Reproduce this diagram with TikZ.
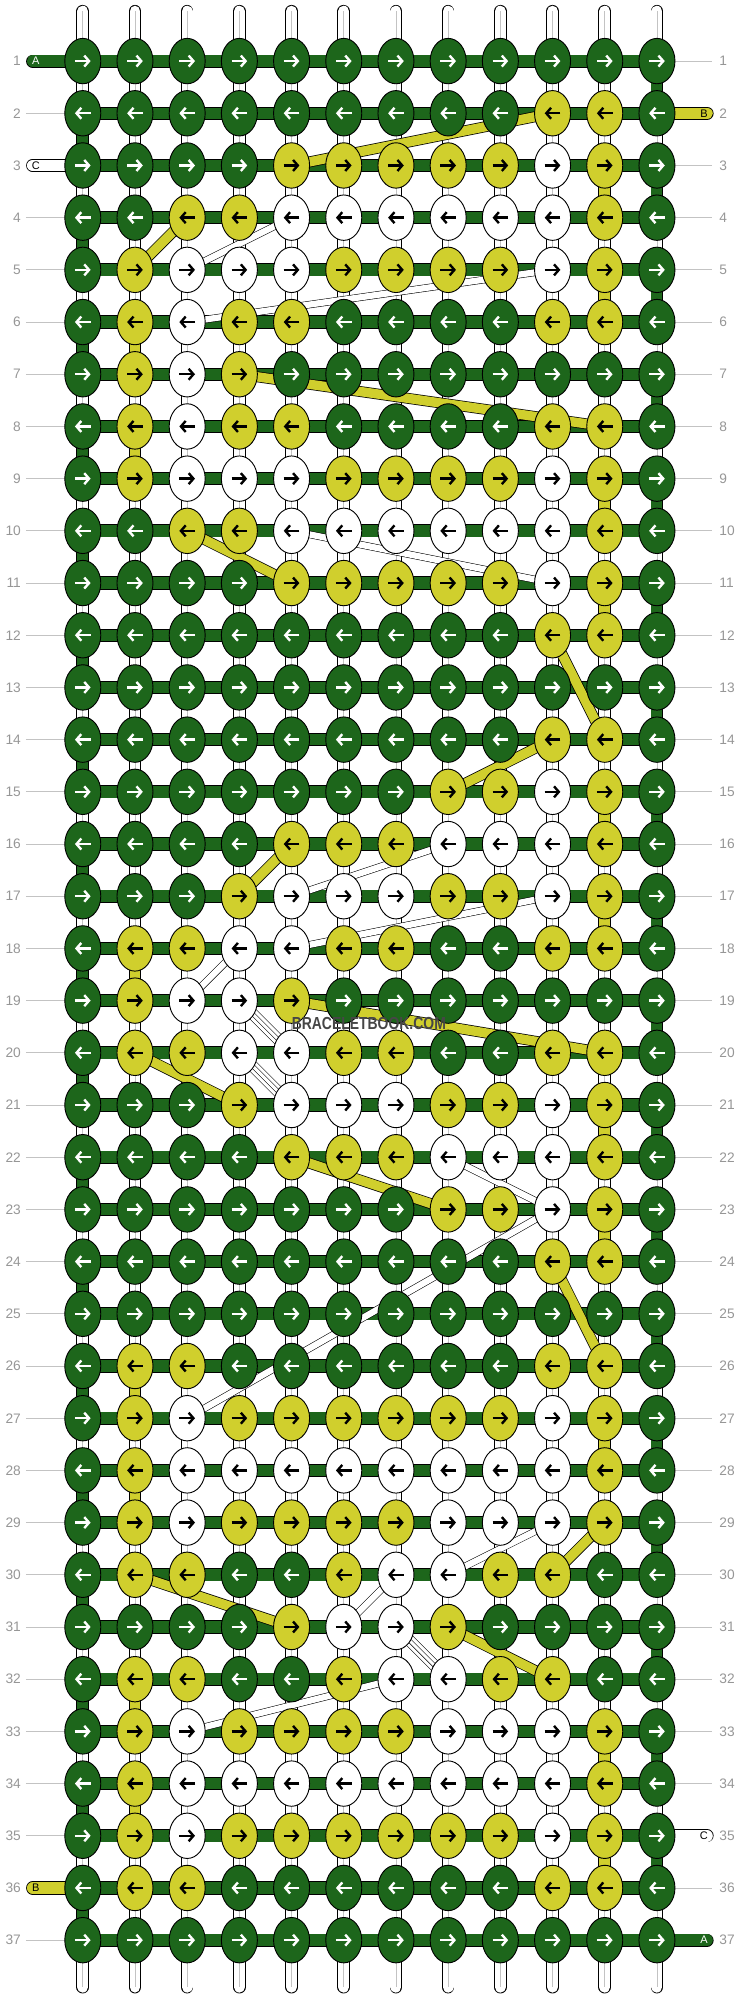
\documentclass[tikz,border=0pt]{standalone}
\usepackage{fontspec}
\setmainfont{Liberation Sans}
\usetikzlibrary{shapes.geometric,arrows.meta}
\definecolor{knotG}{RGB}{29,102,27}
\definecolor{knotY}{RGB}{208,207,45}
\definecolor{knotW}{RGB}{255,255,255}
\colorlet{arrG}{white}
\colorlet{arrY}{black}
\colorlet{arrW}{black}
\definecolor{rowgray}{RGB}{150,150,150}
\definecolor{linegray}{RGB}{195,195,195}
\definecolor{markgray}{RGB}{70,70,70}
\pgfdeclarelayer{strands}
\pgfsetlayers{strands,main}
\tikzset{
  knot/.style={ellipse, draw=black, line width=0.5pt, minimum width=0.69cm, minimum height=0.87cm, inner sep=0pt},
  knotarrow/.style={line width=1.3pt, -{Straight Barb[length=2.6pt,width=6pt]}},
  hband/.style={draw=black, line width=0.45pt, double=knotG, double distance=0.22cm},
  tab/.style={draw=black, line width=0.45pt, double=#1, double distance=0.22cm, line cap=round},
  vwhite/.style={draw=black, line width=0.45pt, double=white, double distance=0.21cm, line cap=round},
  vmid/.style={draw=linegray, line width=0.4pt},
  vseg/.style={draw=black, line width=0.45pt, double=#1, double distance=0.21cm},
  ydiag/.style={draw=black, line width=0.4pt, double=knotY, double distance=0.18cm},
  wdiag/.style={draw=black, line width=0.3pt, double=white, double distance=0.12cm},
  wbundle/.style={draw=black, line width=0.3pt, double=white, double distance=0.2cm,
    postaction={draw=black, line width=0.3pt, double=white, double distance=0.06cm}},
  rownum/.style={text=rowgray, font=\fontsize{7.5}{8}\selectfont, inner sep=0pt},
  tabtext/.style={font=\fontsize{6}{6}\selectfont, inner sep=0pt}
}
\begin{document}
\begin{tikzpicture}
\useasboundingbox (-0.586,0.17) rectangle (13.59,-38.07);
% knots, one row of the pattern per entry
\foreach \row [count=\r] in {
  {G,G,G,G,G,G,G,G,G,G,G,G},{G,G,G,G,G,G,G,G,G,Y,Y,G},{G,G,G,G,Y,Y,Y,Y,Y,W,Y,G},
  {G,G,Y,Y,W,W,W,W,W,W,Y,G},{G,Y,W,W,W,Y,Y,Y,Y,W,Y,G},{G,Y,W,Y,Y,G,G,G,G,Y,Y,G},
  {G,Y,W,Y,G,G,G,G,G,G,G,G},{G,Y,W,Y,Y,G,G,G,G,Y,Y,G},{G,Y,W,W,W,Y,Y,Y,Y,W,Y,G},
  {G,G,Y,Y,W,W,W,W,W,W,Y,G},{G,G,G,G,Y,Y,Y,Y,Y,W,Y,G},{G,G,G,G,G,G,G,G,G,Y,Y,G},
  {G,G,G,G,G,G,G,G,G,G,G,G},{G,G,G,G,G,G,G,G,G,Y,Y,G},{G,G,G,G,G,G,G,Y,Y,W,Y,G},
  {G,G,G,G,Y,Y,Y,W,W,W,Y,G},{G,G,G,Y,W,W,W,Y,Y,W,Y,G},{G,Y,Y,W,W,Y,Y,G,G,Y,Y,G},
  {G,Y,W,W,Y,G,G,G,G,G,G,G},{G,Y,Y,W,W,Y,Y,G,G,Y,Y,G},{G,G,G,Y,W,W,W,Y,Y,W,Y,G},
  {G,G,G,G,Y,Y,Y,W,W,W,Y,G},{G,G,G,G,G,G,G,Y,Y,W,Y,G},{G,G,G,G,G,G,G,G,G,Y,Y,G},
  {G,G,G,G,G,G,G,G,G,G,G,G},{G,Y,Y,G,G,G,G,G,G,Y,Y,G},{G,Y,W,Y,Y,Y,Y,Y,Y,W,Y,G},
  {G,Y,W,W,W,W,W,W,W,W,Y,G},{G,Y,W,Y,Y,Y,Y,W,W,W,Y,G},{G,Y,Y,G,G,Y,W,W,Y,Y,G,G},
  {G,G,G,G,Y,W,W,Y,G,G,G,G},{G,Y,Y,G,G,Y,W,W,Y,Y,G,G},{G,Y,W,Y,Y,Y,Y,W,W,W,Y,G},
  {G,Y,W,W,W,W,W,W,W,W,Y,G},{G,Y,W,Y,Y,Y,Y,Y,Y,W,Y,G},{G,Y,Y,G,G,G,G,G,G,Y,Y,G},
  {G,G,G,G,G,G,G,G,G,G,G,G}}{
  \foreach \k [count=\c] in \row {
    \node[knot, fill=knot\k] (k-\r-\c) at (\c,-\r) {};
    \ifodd\r
      \draw[knotarrow, color=arr\k] ([xshift=-0.15cm]k-\r-\c.center) -- ([xshift=0.15cm]k-\r-\c.center);
    \else
      \draw[knotarrow, color=arr\k] ([xshift=0.15cm]k-\r-\c.center) -- ([xshift=-0.15cm]k-\r-\c.center);
    \fi
  }
  \node[rownum, anchor=east] (nl-\r) at (-0.18,-\r) {\r};
  \node[rownum, anchor=west] (nr-\r) at (13.19,-\r) {\r};
}
\begin{pgfonlayer}{strands}
  % row lines on the sides
  \foreach \r in {2,4,5,...,35,37}{
    \coordinate (gl-\r) at (-0.09,-\r);
    \draw[linegray] (gl-\r) -- (k-\r-1.center);
  }
  \foreach \r in {1,3,4,...,34,36}{
    \coordinate (gr-\r) at (13.05,-\r);
    \draw[linegray] (k-\r-12.center) -- (gr-\r);
  }
  % vertical strands
  \foreach \c in {1,...,12}{
    \coordinate (top-\c) at (\c,-0.045);
    \coordinate (bot-\c) at (\c,-37.9);
    \draw[vwhite] (top-\c) -- (bot-\c);
    \draw[vmid] (top-\c) -- (bot-\c);
  }
  % horizontal strands
  \foreach \r in {1,...,37}
    \draw[hband] (k-\r-1.center) -- (k-\r-12.center);
  % turns at the edges
  \foreach \r [evaluate=\r as \s using int(\r+1)] in {2,4,...,36}
    \draw[vseg=knotG] (k-\r-1.center) -- (k-\s-1.center);
  \foreach \r [evaluate=\r as \s using int(\r+1)] in {1,3,...,35}
    \draw[vseg=knotG] (k-\r-12.center) -- (k-\s-12.center);
  \foreach \r [evaluate=\r as \s using int(\r+1)] in {6,8,18,26,28,32,34}
    \draw[vseg=knotY] (k-\r-2.center) -- (k-\s-2.center);
  \foreach \r [evaluate=\r as \s using int(\r+1)] in {3,5,9,11,15,17,21,23,27,33,35}
    \draw[vseg=knotY] (k-\r-11.center) -- (k-\s-11.center);
  % strands that move across
  \foreach \a/\b in {4-5/5-3,5-10/6-3,10-5/11-10,16-8/17-5,17-10/18-5,22-8/23-10,
    23-10/27-3,29-10/30-8,32-7/33-3,18-4/19-3,30-7/31-6}
    \draw[wdiag] (k-\a.center) -- (k-\b.center);
  \foreach \a/\b in {19-4/20-5,20-4/21-5,31-7/32-8}
    \draw[wbundle] (k-\a.center) -- (k-\b.center);
  \foreach \a/\b in {2-10/3-5,4-3/5-2,7-4/8-11,10-3/11-5,12-10/14-11,14-10/15-8,16-5/17-4,
    19-5/20-11,20-2/21-4,22-5/23-8,24-10/26-11,29-11/30-10,30-2/31-5,31-8/32-10}
    \draw[ydiag] (k-\a.center) -- (k-\b.center);
  % string ends
  \coordinate (endA1) at (0.04,-1);
  \coordinate (endA2) at (12.96,-37);
  \coordinate (endB1) at (12.96,-2);
  \coordinate (endB2) at (0.04,-36);
  \coordinate (endC1) at (0.04,-3);
  \coordinate (endC2) at (12.96,-35);
  \draw[tab=knotG] (endA1) -- (k-1-1.center);
  \draw[tab=knotG] (k-37-12.center) -- (endA2);
  \draw[tab=knotY] (k-2-12.center) -- (endB1);
  \draw[tab=knotY] (endB2) -- (k-36-1.center);
  \draw[tab=white] (endC1) -- (k-3-1.center);
  \draw[tab=white] (k-35-12.center) -- (endC2);
\end{pgfonlayer}
\node[tabtext, text=white] (lA1) at (0.1,-1) {A};
\node[tabtext, text=white] (lA2) at (12.9,-37) {A};
\node[tabtext] (lB1) at (12.9,-2) {B};
\node[tabtext] (lB2) at (0.1,-36) {B};
\node[tabtext] (lC1) at (0.1,-3) {C};
\node[tabtext] (lC2) at (12.9,-35) {C};
\node[text=markgray, font=\bfseries\fontsize{9.5}{10}\selectfont, inner sep=0pt] (mark) at (6.48,-19.43) {\scalebox{0.8}[1]{BRACELETBOOK.COM}};
\end{tikzpicture}
\end{document}
